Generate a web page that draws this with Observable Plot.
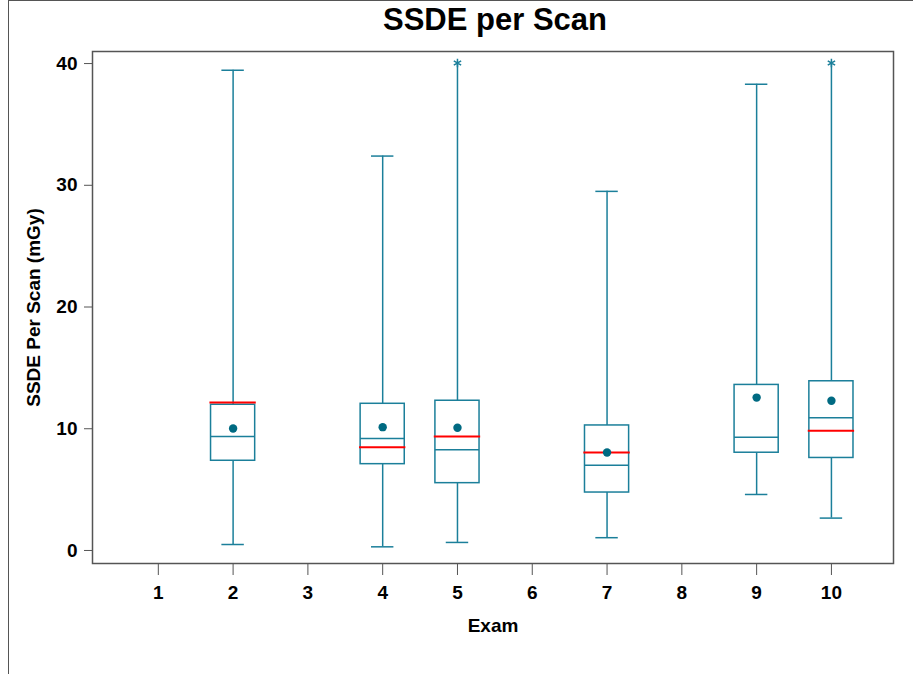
<!DOCTYPE html>
<html>
<head>
<meta charset="utf-8">
<script src="https://cdn.jsdelivr.net/npm/d3@7"></script>
<script src="https://cdn.jsdelivr.net/npm/@observablehq/plot@0.6"></script>
<style>
  html, body { margin: 0; padding: 0; background: #fff; }
  #wrap { position: relative; width: 913px; height: 674px; overflow: hidden; font-family: "Liberation Sans", Arial, sans-serif; }
  #border { position: absolute; left: 8px; top: 0; right: -2px; bottom: -2px; border-left: 1.5px solid #555; border-top: 1.5px solid #555; pointer-events: none; }
  #title { position: absolute; left: 95px; top: 0; width: 800px; height: 40px; line-height: 40px; text-align: center; font-size: 31px; font-weight: bold; color: #000; }
  #chart { position: absolute; left: 0; top: 40px; }
</style>
</head>
<body>
<div id="wrap">
  <div id="title">SSDE per Scan</div>
  <div id="chart"></div>
  <div id="border"></div>
</div>
<script>
// Data
const exams       = [2, 4, 5, 7, 9, 10];
const whiskerLow  = [0.49, 0.30, 0.66, 1.05, 4.60, 2.66];
const q1          = [7.37, 7.09, 5.53, 4.76, 8.03, 7.60];
const median      = [9.36, 9.20, 8.27, 7.00, 9.30, 10.90];
const q3          = [11.97, 12.05, 12.30, 10.27, 13.60, 13.90];
const whiskerHigh = [39.45, 32.40, 39.90, 29.50, 38.30, 39.90];
const mean        = [10.02, 10.13, 10.08, 8.05, 12.56, 12.30];
const redLine     = [12.16, 8.49, 9.36, 8.05, null, 9.83];
const outlierExam  = [5, 10];
const outlierValue = [40.05, 40.05];

const xTicks = [1, 2, 3, 4, 5, 6, 7, 8, 9, 10];
const yTicks = [0, 10, 20, 30, 40];

const xTitle = "Exam";
const yTitle = "SSDE Per Scan (mGy)";

const boxes = exams.map((e, i) => ({
  exam: e, low: whiskerLow[i], q1: q1[i], median: median[i], q3: q3[i],
  high: whiskerHigh[i], mean: mean[i], red: redLine[i]
}));
const outliers = outlierExam.map((e, i) => ({exam: e, value: outlierValue[i]}));
const hasOutlier = new Set(outlierExam);

const BOX = "#1b7f9a";
const MEAN = "#006a82";
const HW = 0.295;   // box half width (x units)
const CW = 0.15;    // cap half width
const RW = 0.31;    // red line half width
const FS = 19;

const chart = Plot.plot({
  width: 913,
  height: 634,
  marginTop: 11,
  marginBottom: 111,
  marginLeft: 92,
  marginRight: 20,
  style: {fontFamily: "'Liberation Sans', Arial, sans-serif", fontWeight: "bold", fontSize: FS + "px", color: "#000", background: "transparent"},
  x: {type: "linear", domain: [0.12, 10.83]},
  y: {domain: [-1.07, 40.99]},
  marks: [
    Plot.axisX({ticks: xTicks, tickSize: 12, tickPadding: 10, tickFormat: d => String(d), stroke: "#555", fill: "#000", label: null, fontSize: FS, fontWeight: "bold"}),
    Plot.axisY({ticks: yTicks, tickSize: 8, tickPadding: 7, tickFormat: d => String(d), stroke: "#555", fill: "#000", label: null, fontSize: FS, fontWeight: "bold"}),
    Plot.frame({stroke: "#555", strokeWidth: 1.5}),
    // whiskers
    Plot.ruleX(boxes, {x: "exam", y1: "q3", y2: "high", stroke: BOX, strokeWidth: 1.5}),
    Plot.ruleX(boxes, {x: "exam", y1: "low", y2: "q1", stroke: BOX, strokeWidth: 1.5}),
    // caps
    Plot.ruleY(boxes.filter(d => !hasOutlier.has(d.exam)), {y: "high", x1: d => d.exam - CW, x2: d => d.exam + CW, stroke: BOX, strokeWidth: 1.5}),
    Plot.ruleY(boxes, {y: "low", x1: d => d.exam - CW, x2: d => d.exam + CW, stroke: BOX, strokeWidth: 1.5}),
    // boxes
    Plot.rect(boxes, {x1: d => d.exam - HW, x2: d => d.exam + HW, y1: "q1", y2: "q3", fill: "white", stroke: BOX, strokeWidth: 1.5}),
    Plot.ruleY(boxes, {y: "median", x1: d => d.exam - HW, x2: d => d.exam + HW, stroke: BOX, strokeWidth: 1.5}),
    Plot.ruleY(boxes.filter(d => d.red != null), {y: "red", x1: d => d.exam - RW, x2: d => d.exam + RW, stroke: "#ff0000", strokeWidth: 2}),
    Plot.dot(boxes, {x: "exam", y: "mean", r: 4.2, fill: MEAN, stroke: null}),
    Plot.dot(outliers, {x: "exam", y: "value", symbol: "asterisk", r: 4, stroke: BOX, strokeWidth: 1.5}),
    // axis titles
    Plot.text([xTitle], {frameAnchor: "bottom", dy: 68, text: d => d, fontSize: FS, fontWeight: "bold", fill: "#000"}),
    Plot.text([yTitle], {frameAnchor: "left", dx: -59, rotate: -90, textAnchor: "middle", text: d => d, fontSize: FS, fontWeight: "bold", fill: "#000"})
  ]
});
document.getElementById("chart").appendChild(chart);
</script>
</body>
</html>
